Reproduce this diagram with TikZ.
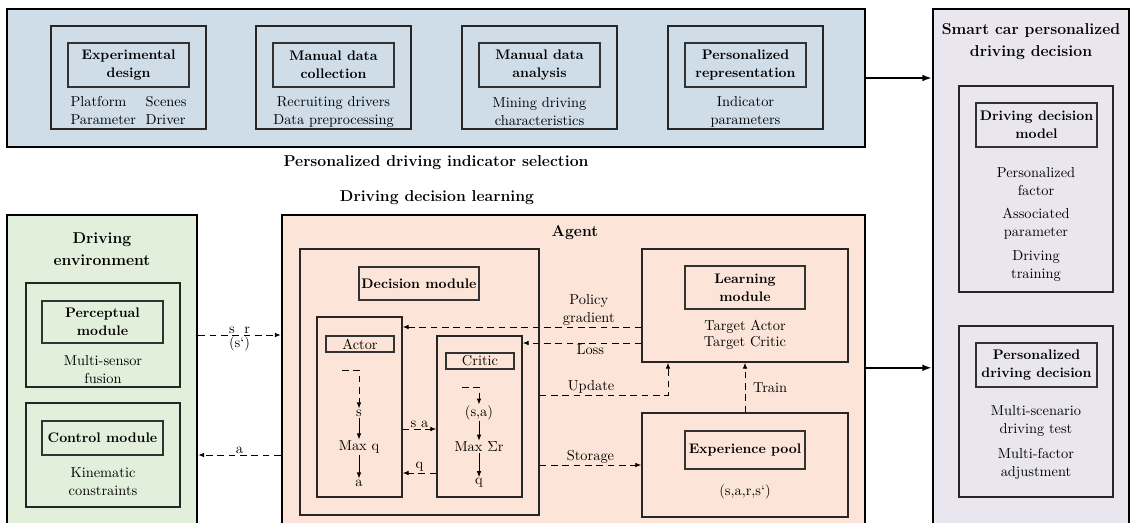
\documentclass[tikz,border=0pt]{standalone}
\usetikzlibrary{arrows.meta,calc}
\definecolor{bluefill}{RGB}{207,221,233}
\definecolor{greenfill}{RGB}{226,239,218}
\definecolor{peachfill}{RGB}{252,229,216}
\definecolor{lilacfill}{RGB}{233,230,240}

\begin{document}
\begin{tikzpicture}[x=0.75pt,y=0.75pt,yscale=-1,xscale=1,
	boxsize/.style 2 args={minimum width=#1*0.75pt,minimum height=#2*0.75pt},
	bigbox/.style={draw=black,line width=1.8pt,inner sep=0pt},
	module/.style={draw=black!85,line width=1.1pt,inner sep=0pt},
	namebox/.style={draw=black!80,line width=0.9pt,inner sep=0pt,align=center,font=\fontsize{10.4}{13.5}\selectfont\bfseries},
	tagbox/.style={draw=black!80,line width=0.9pt,inner sep=0pt,align=center,font=\fontsize{10.8}{13.5}\selectfont},
	txt/.style={inner sep=0.75pt,align=center,font=\fontsize{10.8}{13.5}\selectfont},
	heading/.style={inner sep=0.75pt,align=center,font=\fontsize{11.8}{16.5}\selectfont\bfseries},
	flow/.style={line width=0.7pt,dash pattern=on 5pt off 3.5pt,-{Latex[length=4.5pt,width=3.5pt]}},
	feed/.style={line width=0.7pt,-{Latex[length=4.5pt,width=3.5pt]}},
	link/.style={line width=1.3pt,-{Latex[length=7pt,width=5pt]}}]
	\useasboundingbox (0,0) rectangle (1132,522);
	
	%Indicator selection [blue]
	\node[bigbox,fill=bluefill,boxsize={858}{138}] (select) at (436,78) {};
	\node[module,boxsize={155}{103}] (expbox) at (128.5,77.5) {};
	\node[namebox,boxsize={121}{44}] (exptitle) at (128.5,65) {Experimental\\design};
	\node[txt] (exptext) at (128.5,112) {\begin{tabular}{@{}l@{\ \ }l@{}}Platform & Scenes\\Parameter & Driver\end{tabular}};
	\node[module,boxsize={155}{103}] (collbox) at (333.5,77.5) {};
	\node[namebox,boxsize={121}{44}] (colltitle) at (333.5,65) {Manual data\\collection};
	\node[txt] (colltext) at (333.5,112) {Recruiting drivers\\Data preprocessing};
	\node[module,boxsize={155}{103}] (anabox) at (539.5,77.5) {};
	\node[namebox,boxsize={121}{44}] (anatitle) at (539.5,65) {Manual data\\analysis};
	\node[txt] (anatext) at (539.5,112) {Mining driving\\characteristics};
	\node[module,boxsize={155}{103}] (repbox) at (745.5,77.5) {};
	\node[namebox,boxsize={121}{44}] (reptitle) at (745.5,65) {Personalized\\representation};
	\node[txt] (reptext) at (745.5,112) {Indicator\\parameters};
	% Text Node
	\node[heading] (selcap) at (436,163) {Personalized driving indicator selection};
	% Text Node
	\node[heading] (learncap) at (437,198) {Driving decision learning};
	
	%Smart car decision [lilac]
	\node[bigbox,fill=lilacfill,boxsize={196}{531}] (smart) at (1031,274.5) {};
	\node[heading] (smarttitle) at (1031,41.5) {Smart car personalized\\driving decision};
	\node[module,boxsize={154}{206}] (model) at (1036,189) {};
	\node[namebox,boxsize={121}{44}] (modeltitle) at (1036.5,125) {Driving decision\\model};
	\node[txt] (factor) at (1036,181.5) {Personalized\\factor};
	\node[txt] (assoc) at (1036,224) {Associated\\parameter};
	\node[txt] (training) at (1036,266) {Driving\\training};
	\node[module,boxsize={154}{171}] (persdec) at (1036,411.5) {};
	\node[namebox,boxsize={121}{44}] (perstitle) at (1036.5,365) {Personalized\\driving decision};
	\node[txt] (scentest) at (1036,421) {Multi-scenario\\driving test};
	\node[txt] (adjust) at (1036,463.5) {Multi-factor\\adjustment};
	
	%Driving environment [green]
	\node[bigbox,fill=greenfill,boxsize={190}{325}] (env) at (102,377.5) {};
	\node[heading] (envtitle) at (102,249.5) {Driving\\environment};
	\node[module,boxsize={154}{104}] (percep) at (103,335) {};
	\node[namebox,boxsize={121}{42}] (perctitle) at (102.5,322) {Perceptual\\module};
	\node[txt] (perctext) at (103,370) {Multi-sensor\\fusion};
	\node[module,boxsize={154}{104}] (control) at (103,455) {};
	\node[namebox,boxsize={121}{34}] (ctrltitle) at (102.5,438) {Control module};
	\node[txt] (ctrltext) at (103,482) {Kinematic\\constraints};
	
	%Agent [peach]
	\node[bigbox,fill=peachfill,boxsize={583}{325}] (agent) at (573.5,377.5) {};
	\node[heading] (agenttitle) at (575,233) {Agent};
	\node[module,boxsize={239}{266}] (decision) at (419.5,382) {};
	\node[namebox,boxsize={120}{33}] (dectitle) at (419,283.5) {Decision module};
	\node[module,boxsize={85}{180}] (actor) at (359.5,407) {};
	\node[tagbox,boxsize={68}{16}] (actortitle) at (360,344) {Actor};
	\node[module,boxsize={85}{161}] (critic) at (479.5,416.5) {};
	\node[tagbox,boxsize={68}{16}] (critictitle) at (480,361) {Critic};
	\node[txt] (st) at (359,413) {s};
	\node[txt] (maxq) at (359,447) {Max q};
	\node[txt] (act) at (359,483) {a};
	\node[txt] (sapair) at (479,413) {(s,a)};
	\node[txt] (maxr) at (479,447) {Max $\Sigma$r};
	\node[txt] (qval) at (479,483) {q};
	\node[module,boxsize={206}{113}] (learn) at (745,305.5) {};
	\node[namebox,boxsize={120}{43}] (learntitle) at (745,287.5) {Learning\\module};
	\node[txt] (tact) at (745,327) {Target Actor};
	\node[txt] (tcrit) at (745,343) {Target Critic};
	\node[module,boxsize={206}{104}] (exp) at (745,465) {};
	\node[namebox,boxsize={120}{38}] (exptitle2) at (745,450) {Experience pool};
	\node[txt] (pool) at (745,492) {(s,a,r,s`)};
	
	%Connectors
	\coordinate (actin) at (342,370);
	\coordinate (critin) at (462,387);
	\coordinate (sapt) at ($(actor.east)+(0,22)$);
	\coordinate (qpt) at ($(actor.east)+(0,66)$);
	\coordinate (updknee) at (668,395);
	\coordinate (agentout) at ($(agent.north east)+(0,154)$);
	
	\draw[link] (select.east) -- (select.east -| smart.west);
	\draw[link] (agentout) -- (agentout -| smart.west);
	\draw[flow] (percep -| env.east) -- node[txt,above]{s\ \ r} node[txt,below]{(s`)} (percep -| agent.west);
	\draw[flow] (control -| agent.west) -- node[txt,above]{a} (control -| env.east);
	\draw[flow] (actin) -- (actin -| st) -- (st.north);
	\draw[feed] (st) -- (maxq);
	\draw[feed] (maxq) -- (act);
	\draw[flow] (critin) -- (critin -| sapair) -- (sapair.north);
	\draw[feed] (sapair) -- (maxr);
	\draw[feed] (maxr) -- (qval);
	\draw[flow] (sapt) -- node[txt,above]{s a} (sapt -| critic.west);
	\draw[flow] (qpt -| critic.west) -- node[txt,above]{q} (qpt);
	\draw[flow] (tact -| learn.west) -- node[txt,above,pos=0.22]{Policy\\gradient} (tact -| actor.east);
	\draw[flow] (tcrit -| learn.west) -- node[txt,below,pos=0.43]{Loss} (tcrit -| critic.east);
	\draw[flow] (updknee -| decision.east) -- node[txt,above,pos=0.4]{Update} (updknee) -- (updknee |- learn.south);
	\draw[flow] (exp.west -| decision.east) -- node[txt,above]{Storage} (exp.west);
	\draw[flow] (exp.north) -- node[txt,right=5pt]{Train} (learn.south);
	
\end{tikzpicture}
\end{document}
